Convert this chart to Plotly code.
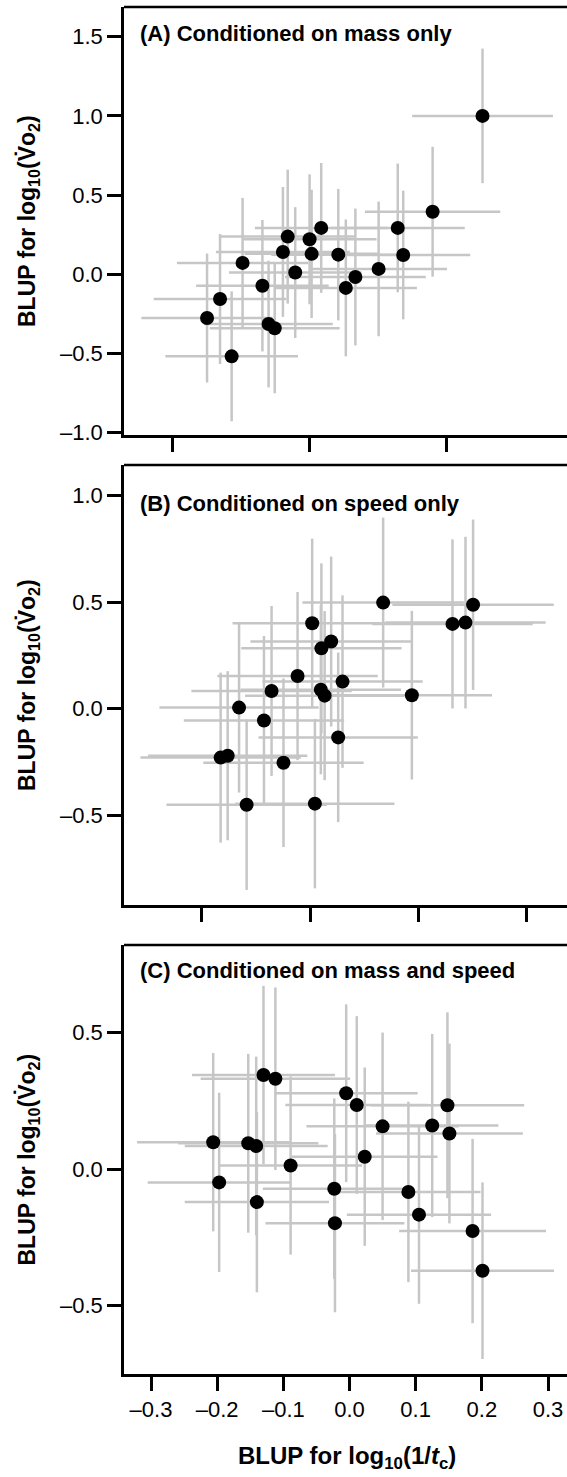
import plotly.graph_objects as go

# ---------------- data ----------------
# Panel A: conditioned on mass only
xA = [0.253, 0.180, 0.129, 0.137, 0.101, 0.067, 0.053, 0.042, 0.017, 0.000, 0.003,
      -0.021, -0.032, -0.039, -0.098, -0.069, -0.131, -0.150, -0.060, -0.051, -0.114]
yA = [1.000, 0.395, 0.293, 0.122, 0.034, -0.017, -0.086, 0.124, 0.293, 0.221, 0.129,
      0.011, 0.238, 0.141, 0.072, -0.072, -0.156, -0.276, -0.314, -0.341, -0.518]
xerrA = [0.103, 0.099, 0.098, 0.098, 0.100, 0.103, 0.104, 0.098, 0.097, 0.098, 0.098,
         0.097, 0.098, 0.098, 0.096, 0.097, 0.097, 0.096, 0.094, 0.095, 0.097]
yerrA = [0.425, 0.410, 0.406, 0.406, 0.425, 0.432, 0.432, 0.415, 0.410, 0.410, 0.405,
         0.413, 0.423, 0.410, 0.410, 0.415, 0.410, 0.407, 0.400, 0.410, 0.410]

# Panel B: conditioned on speed only
xB = [0.135, 0.301, 0.263, 0.287, 0.004, 0.039, 0.021, -0.023, 0.060, -0.071, 0.020,
      0.027, 0.188, -0.131, -0.085, 0.052, -0.165, -0.152, -0.049, -0.117, 0.009]
yB = [0.498, 0.488, 0.398, 0.404, 0.401, 0.315, 0.283, 0.153, 0.127, 0.083, 0.089,
      0.061, 0.063, 0.005, -0.056, -0.135, -0.230, -0.221, -0.254, -0.451, -0.446]
xerrB = [0.149, 0.149, 0.148, 0.148, 0.147, 0.149, 0.148, 0.148, 0.148, 0.148, 0.148,
         0.147, 0.148, 0.147, 0.148, 0.147, 0.148, 0.147, 0.148, 0.148, 0.147]
yerrB = [0.399, 0.400, 0.397, 0.403, 0.397, 0.399, 0.399, 0.395, 0.405, 0.399, 0.397,
         0.397, 0.396, 0.399, 0.397, 0.398, 0.399, 0.397, 0.396, 0.400, 0.398]

# Panel C: conditioned on mass and speed
xC = [-0.130, -0.112, -0.005, 0.011, 0.148, 0.050, 0.125, 0.151, -0.206, -0.153, -0.141,
      -0.089, 0.023, -0.197, -0.023, 0.089, -0.140, -0.022, 0.105, 0.186, 0.201]
yC = [0.344, 0.330, 0.277, 0.234, 0.233, 0.156, 0.159, 0.130, 0.098, 0.094, 0.084,
      0.013, 0.045, -0.049, -0.072, -0.084, -0.121, -0.198, -0.167, -0.227, -0.372]
xerrC = [0.108, 0.113, 0.108, 0.108, 0.116, 0.115, 0.100, 0.111, 0.115, 0.106, 0.108,
         0.108, 0.110, 0.108, 0.108, 0.109, 0.109, 0.105, 0.109, 0.111, 0.108]
yerrC = [0.326, 0.334, 0.325, 0.325, 0.340, 0.343, 0.335, 0.329, 0.326, 0.327, 0.327,
         0.326, 0.326, 0.328, 0.330, 0.330, 0.330, 0.326, 0.326, 0.337, 0.323]

panel_titles = ["(A) Conditioned on mass only",
                "(B) Conditioned on speed only",
                "(C) Conditioned on mass and speed"]

yticksA = [-1.0, -0.5, 0.0, 0.5, 1.0, 1.5]
yticksB = [-0.5, 0.0, 0.5, 1.0]
yticksC = [-0.5, 0.0, 0.5]
xticksA = [-0.2, 0.0, 0.2]
xticksB = [-0.2, 0.0, 0.2, 0.4]
xticksC = [-0.3, -0.2, -0.1, 0.0, 0.1, 0.2, 0.3]

y_title = "<b>BLUP for log<sub>10</sub>(V\u0307o<sub>2</sub>)</b>"
x_title = "<b>BLUP for log<sub>10</sub>(1/<i>t</i><sub>c</sub>)</b>"


def fmt(v):
    s = f"{abs(v):.1f}"
    return ("\u2013" + s) if v < 0 else s


FONT = "Liberation Sans, Arial, Helvetica, sans-serif"
W, H = 567, 1477
L, T, B = 124, 7, 103
PH = H - T - B  # plot area height in px
VIS_RIGHT = 567   # pixel where the visible window ends
PLOT_RIGHT = 567  # right edge of the plot area (no right frame line is drawn)


def yfrac(px):
    return (H - B - px) / PH


def xfrac(px):
    return (px - L) / (PLOT_RIGHT - L)


fig = go.Figure()
panels = [
    (xA, yA, xerrA, yerrA, "x", "y"),
    (xB, yB, xerrB, yerrB, "x2", "y2"),
    (xC, yC, xerrC, yerrC, "x3", "y3"),
]
for xs, ys, xe, ye, xa, ya in panels:
    fig.add_trace(go.Scatter(
        x=xs, y=ys, mode="markers", xaxis=xa, yaxis=ya,
        marker=dict(color="black", size=14, line=dict(width=0)),
        error_x=dict(type="data", array=xe, visible=True, color="#c6c6c6",
                     thickness=2.5, width=0),
        error_y=dict(type="data", array=ye, visible=True, color="#c6c6c6",
                     thickness=2.5, width=0),
        showlegend=False, hoverinfo="skip"))

axis_common = dict(showline=True, linecolor="black", linewidth=2.5,
                   ticks="outside", ticklen=14, tickwidth=2.5, tickcolor="black",
                   showgrid=False, zeroline=False,
                   tickfont=dict(family=FONT, size=22, color="black"))

# pixel extents of each panel (top, bottom)
extents = [(7, 435), (465, 905), (945, 1374)]
xranges = [[-0.2715, 0.3766], [-0.3434, 0.4744], [-0.3408, 0.3287]]
yranges = [[-1.0145, 1.6875], [-0.922, 1.144], [-0.7498, 0.8193]]
xtick_sets = [xticksA, xticksB, xticksC]
ytick_sets = [yticksA, yticksB, yticksC]

layout = dict(width=W, height=H, margin=dict(l=L, r=0, t=T, b=B, pad=0),
              paper_bgcolor="white", plot_bgcolor="white",
              font=dict(family=FONT, color="black"))
for i in range(3):
    suf = "" if i == 0 else str(i + 1)
    top, bot = extents[i]
    xt = xtick_sets[i]
    yt = ytick_sets[i]
    layout["xaxis" + suf] = dict(
        axis_common, domain=[0, 1], range=xranges[i], anchor="y" + suf,
        tickvals=xt, ticktext=[fmt(v) for v in xt], mirror=False,
        showticklabels=(i == 2), fixedrange=True)
    layout["yaxis" + suf] = dict(
        axis_common, domain=[yfrac(bot), yfrac(top)], range=yranges[i],
        anchor="x" + suf, tickvals=yt, ticktext=[fmt(v) for v in yt],
        mirror=False, fixedrange=True)

fig.update_layout(**layout)

# top frame line of each panel drawn as a shape running to the window edge
shapes = []
for i in range(3):
    top, bot = extents[i]
    shapes.append(dict(type="line", xref="paper", yref="paper",
                       x0=0, x1=1.02, y0=yfrac(top), y1=yfrac(top),
                       line=dict(color="black", width=2.5)))
fig.update_layout(shapes=shapes)

ann = []
title_y_px = [33.5, 503, 970]
for i in range(3):
    top, bot = extents[i]
    ann.append(dict(text="<b>" + panel_titles[i] + "</b>", xref="paper", yref="paper",
                    x=xfrac(138), y=yfrac(title_y_px[i]),
                    xanchor="left", yanchor="middle", showarrow=False,
                    font=dict(family=FONT, size=22, color="black")))
    ann.append(dict(text=y_title, xref="paper", yref="paper",
                    x=xfrac(28), y=yfrac((top + bot) / 2),
                    xanchor="center", yanchor="middle", textangle=-90,
                    showarrow=False,
                    font=dict(family=FONT, size=23, color="black")))
ann.append(dict(text=x_title, xref="paper", yref="paper",
                x=xfrac(347), y=yfrac(1458),
                xanchor="center", yanchor="middle", showarrow=False,
                font=dict(family=FONT, size=24, color="black")))
fig.update_layout(annotations=ann)

fig.write_html(
    "out.html",
    config={"displayModeBar": False},
    post_script=("document.body.style.margin='0';"
                 "document.body.style.overflow='hidden';"
                 "document.documentElement.style.overflow='hidden';"),
)
